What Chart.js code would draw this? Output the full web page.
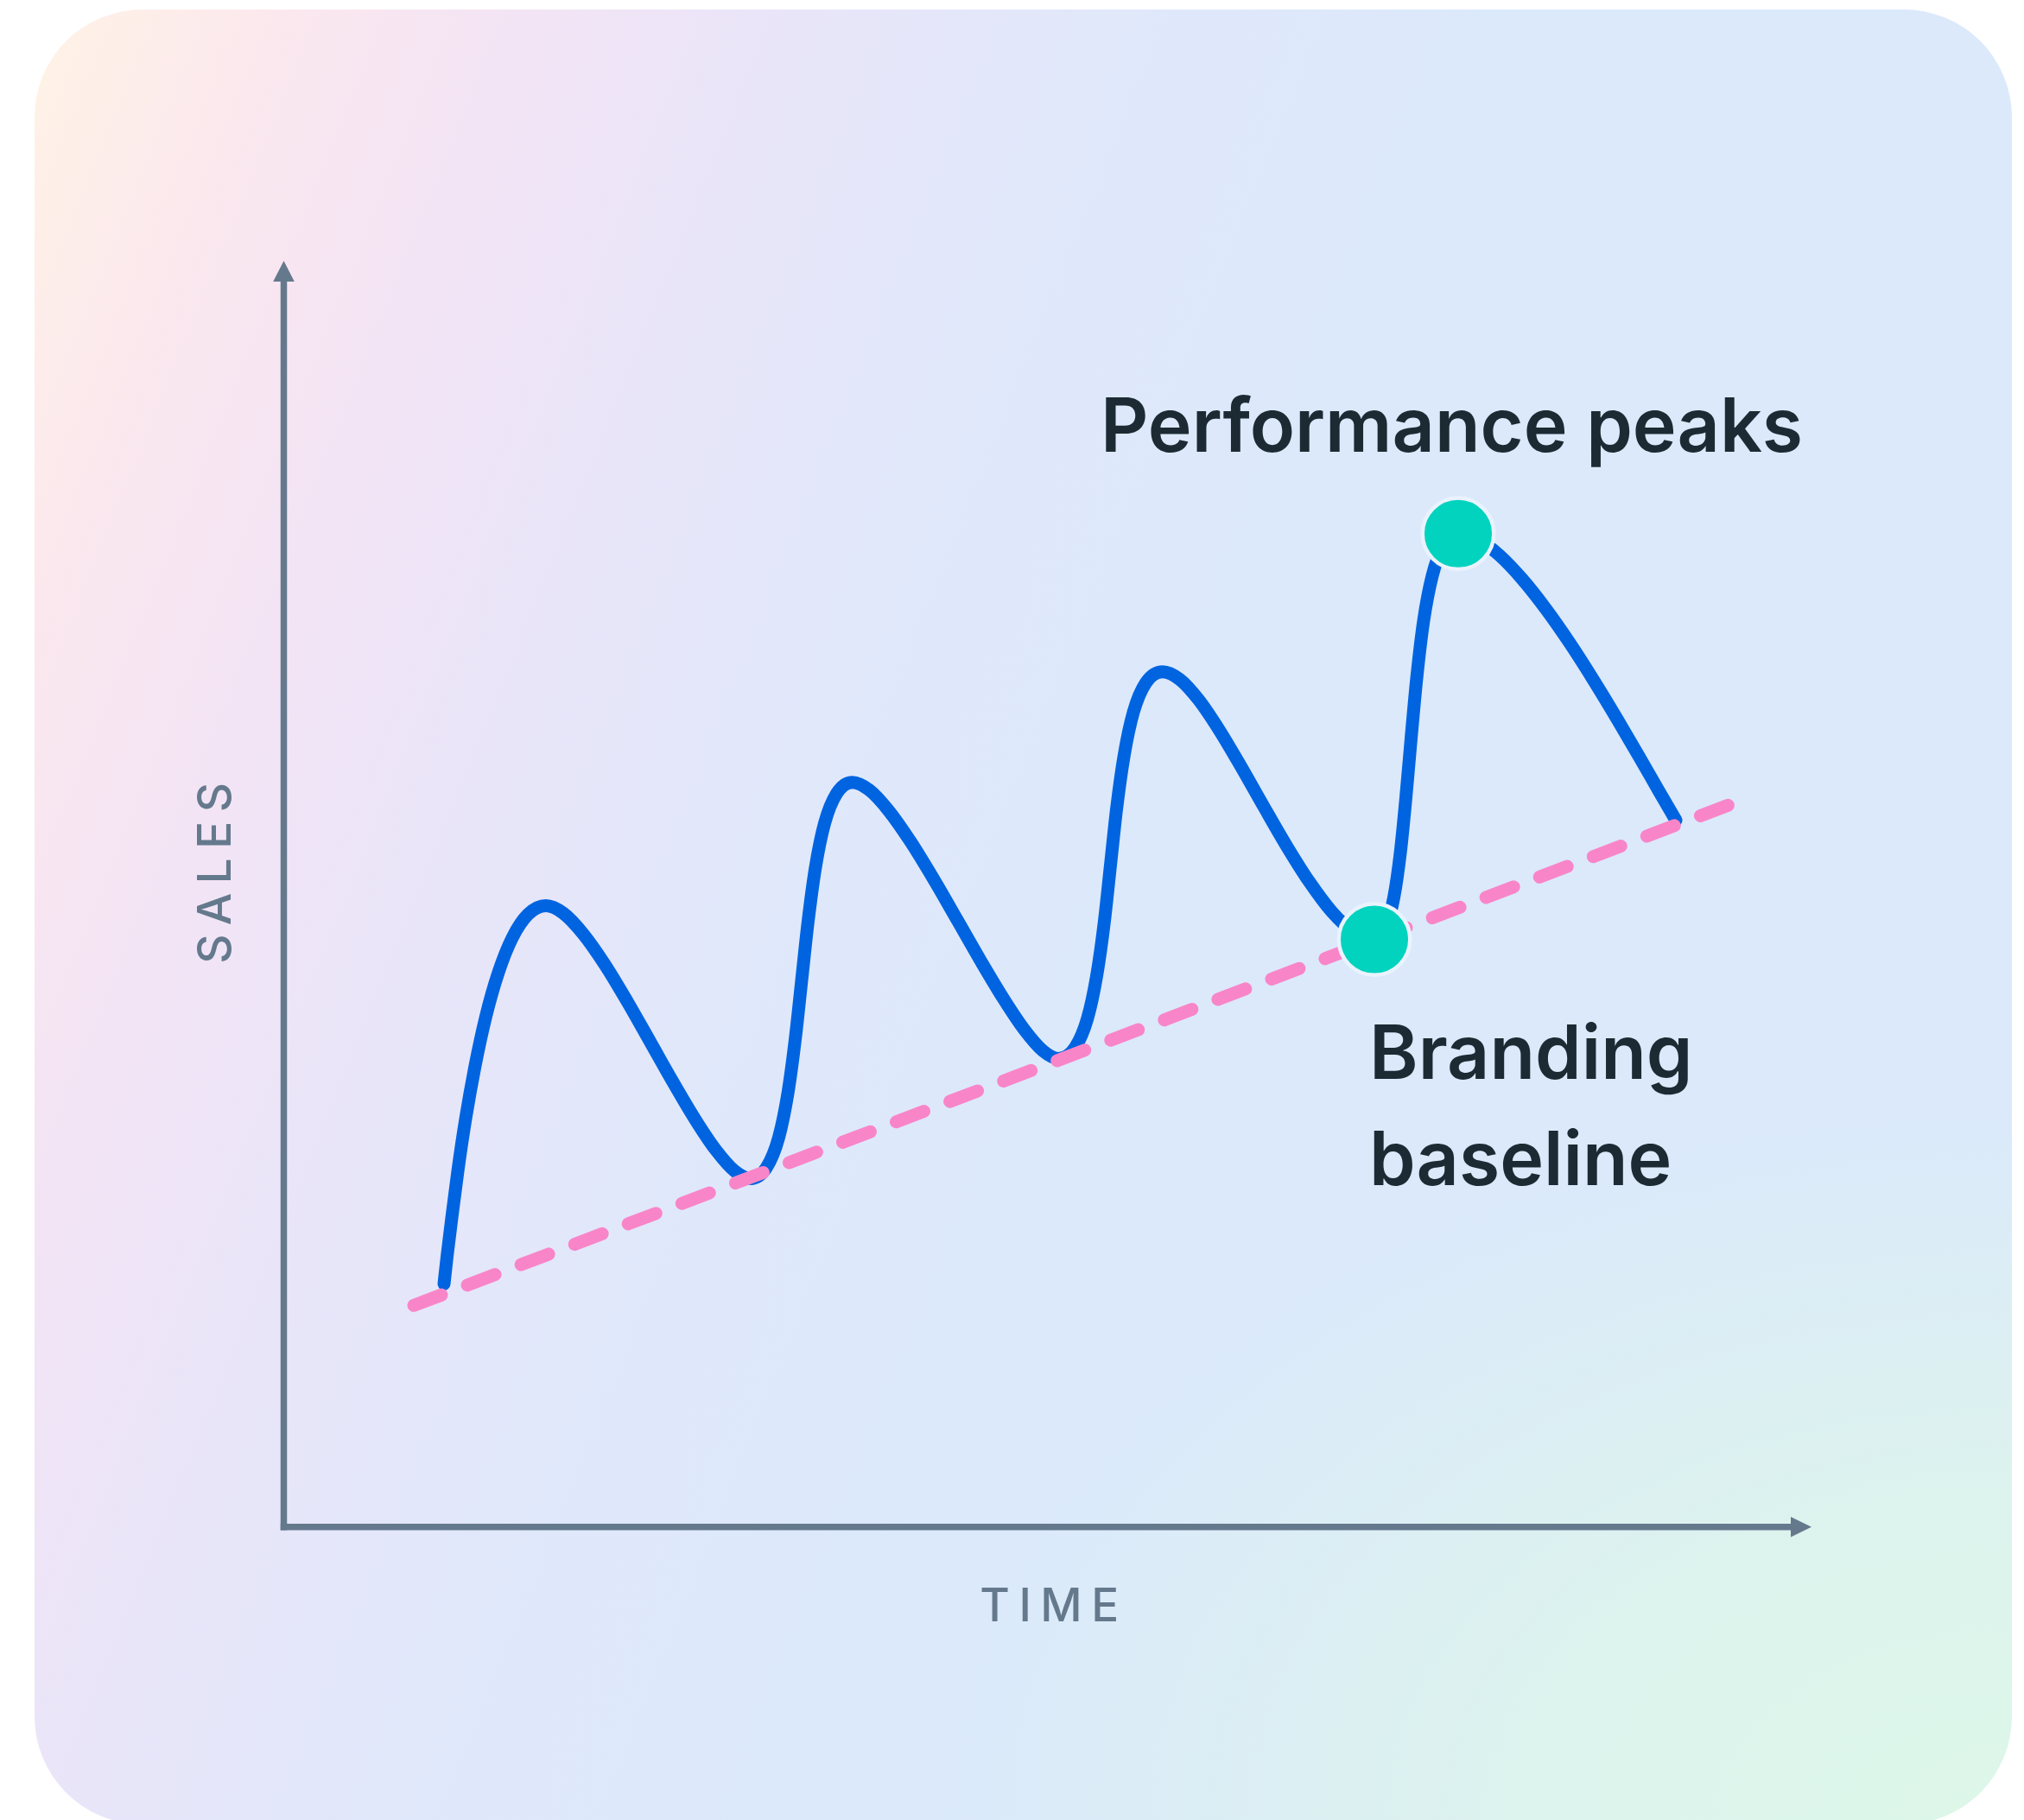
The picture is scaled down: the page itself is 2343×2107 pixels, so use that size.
<!DOCTYPE html>
<html>
<head>
<meta charset="utf-8">
<script src="https://cdn.jsdelivr.net/npm/chart.js@4.4.1/dist/chart.umd.min.js"></script>
<style>
  html, body { margin: 0; padding: 0; background: #ffffff; width: 2343px; height: 2107px; overflow: hidden; }
  #card {
    position: absolute; left: 40px; top: 11px; width: 2289px; height: 2101px; border-radius: 125px;
    background:
      radial-gradient(ellipse 55% 40% at 100% 100%, rgba(221,247,232,1) 0%, rgba(221,247,232,0.7) 45%, rgba(221,247,232,0) 100%),
      linear-gradient(112deg, #fff3e5 0%, #fbe8ee 9%, #f3e4f5 18%, #e9e5f9 28%, #e0e8fa 40%, #dbe9fb 55%, #dbe9fb 100%);
  }
  #wrap { position: absolute; left: 0; top: 0; width: 2343px; height: 2107px; }
</style>
</head>
<body>
<div id="card"></div>
<div id="wrap"><canvas id="c" width="2343" height="2107"></canvas></div>
<script>
// ---- data (arbitrary units, no tick labels) ----
const salesTime = [
  18.70, 19.07, 19.63, 20.33, 21.21, 22.28, 23.52, 24.97, 26.60, 28.44, 30.50,
  32.53, 34.83, 37.33, 39.93, 42.59, 45.24, 47.79, 50.18, 52.34, 54.20,
  56.04, 57.45, 58.51, 59.36, 60.10, 60.84, 61.69, 62.75, 64.16, 66.00,
  67.94, 70.21, 72.73, 75.40, 78.14, 80.86, 83.48, 85.89, 88.03, 89.80,
  91.74, 93.19, 94.27, 95.13, 95.85, 96.57, 97.43, 98.51, 99.96, 101.90,
  103.86, 106.04, 108.41, 110.92, 113.53, 116.19, 118.85, 121.46, 123.99, 126.40,
  127.68, 128.66, 129.42, 130.06, 130.67, 131.32, 132.09, 133.10, 134.41, 136.10,
  138.35, 140.84, 143.50, 146.27, 149.08, 151.85, 154.54, 157.05, 159.33, 161.30];
const salesValue = [
  28.10, 31.44, 36.00, 41.40, 47.28, 53.26, 58.98, 64.09, 68.18, 70.91, 71.90,
  71.02, 68.61, 65.07, 60.78, 56.10, 51.42, 47.13, 43.59, 41.18, 40.30,
  41.59, 45.07, 50.21, 56.46, 63.25, 70.04, 76.29, 81.43, 84.91, 86.20,
  85.30, 82.87, 79.29, 74.94, 70.20, 65.46, 61.11, 57.53, 55.10, 54.20,
  55.45, 58.86, 63.88, 69.97, 76.60, 83.23, 89.32, 94.34, 97.75, 99.00,
  98.13, 95.78, 92.30, 88.09, 83.50, 78.91, 74.70, 71.22, 68.87, 68.00,
  69.32, 72.89, 78.15, 84.54, 91.50, 98.46, 104.85, 110.11, 113.68, 115.00,
  114.34, 112.53, 109.75, 106.25, 102.23, 97.90, 93.46, 89.17, 85.20, 81.80];
const baselineTime = [15.20, 167.50];
const baselineValue = [25.60, 83.60];
const markerTime = [126.40, 136.10];
const markerValue = [68.00, 115.00];
const xAxisTitle = 'TIME';
const yAxisTitle = 'SALES';
const peakLabel = 'Performance peaks';
const baselineLabel = ['Branding', 'baseline'];
const xMax = 178.6;
const yMax = 152.4;

const toPoints = (xs, ys) => xs.map((x, i) => ({ x: x, y: ys[i] }));

const AXIS_COLOR = '#65798d';
const TEXT_COLOR = '#1c2b33';

const decor = {
  id: 'decor',
  beforeDraw(chart) {
    chart.ctx.letterSpacing = '10.5px';
  },
  beforeDatasetsDraw(chart) {
    const { ctx, chartArea: a } = chart;
    ctx.save();
    ctx.letterSpacing = '0px';
    ctx.fillStyle = AXIS_COLOR;
    ctx.strokeStyle = AXIS_COLOR;
    ctx.lineWidth = 7.5;
    const ox = a.left + 1.5, oy = a.bottom + 0.5;
    // y axis
    ctx.beginPath();
    ctx.moveTo(ox, oy + 3.75);
    ctx.lineTo(ox, a.top + 80);
    ctx.stroke();
    ctx.beginPath();
    ctx.moveTo(ox, a.top + 58);
    ctx.lineTo(ox + 12.3, a.top + 82);
    ctx.lineTo(ox - 12.3, a.top + 82);
    ctx.closePath();
    ctx.fill();
    // x axis
    const tipX = a.right - 16;
    ctx.beginPath();
    ctx.moveTo(ox - 3.75, oy);
    ctx.lineTo(tipX - 22, oy);
    ctx.stroke();
    ctx.beginPath();
    ctx.moveTo(tipX, oy);
    ctx.lineTo(tipX - 24, oy - 11.7);
    ctx.lineTo(tipX - 24, oy + 11.7);
    ctx.closePath();
    ctx.fill();
    ctx.restore();
  },
  afterDraw(chart) {
    const { ctx, scales } = chart;
    ctx.save();
    ctx.letterSpacing = '0px';
    ctx.font = '600 86px Inter';
    ctx.fillStyle = TEXT_COLOR;
    ctx.textBaseline = 'alphabetic';
    ctx.textAlign = 'left';
    const px = scales.x.getPixelForValue(markerTime[1]);
    const py = scales.y.getPixelForValue(markerValue[1]);
    ctx.fillText(peakLabel, px - 414, py - 95);
    const bx = scales.x.getPixelForValue(markerTime[0]);
    const by = scales.y.getPixelForValue(markerValue[0]);
    ctx.fillText(baselineLabel[0], bx - 6, by + 161);
    ctx.fillText(baselineLabel[1], bx - 6, by + 284);
    ctx.restore();
  }
};

const titleFont = { family: 'Inter', size: 53, weight: '500' };

new Chart(document.getElementById('c'), {
  type: 'scatter',
  data: {
    datasets: [
      {
        label: 'Highlights',
        data: toPoints(markerTime, markerValue),
        showLine: false,
        pointRadius: 41.3,
        pointHoverRadius: 41.3,
        pointBorderWidth: 4.5,
        pointBackgroundColor: '#02d3bf',
        pointBorderColor: '#eaf3fd'
      },
      {
        label: 'Branding baseline',
        data: toPoints(baselineTime, baselineValue),
        showLine: true,
        borderColor: '#f985c9',
        borderWidth: 15,
        borderDash: [34.3, 32.1],
        borderCapStyle: 'round',
        pointRadius: 0,
        tension: 0
      },
      {
        label: 'Sales',
        data: toPoints(salesTime, salesValue),
        showLine: true,
        borderColor: '#0064e0',
        borderWidth: 15,
        borderCapStyle: 'round',
        borderJoinStyle: 'round',
        pointRadius: 0,
        tension: 0.4,
        cubicInterpolationMode: 'monotone'
      }
    ]
  },
  options: {
    responsive: false,
    animation: false,
    devicePixelRatio: 1,
    layout: { padding: { left: 219.2, right: 230, top: 244, bottom: 214.2 } },
    plugins: { legend: { display: false }, tooltip: { enabled: false } },
    events: [],
    scales: {
      x: {
        type: 'linear', position: 'bottom', min: 0, max: xMax,
        grid: { display: false, drawTicks: false },
        border: { display: false },
        ticks: { display: false },
        title: { display: true, text: xAxisTitle, font: titleFont, color: AXIS_COLOR, padding: { top: 62, bottom: 0 } }
      },
      y: {
        type: 'linear', position: 'left', min: 0, max: yMax,
        grid: { display: false, drawTicks: false },
        border: { display: false },
        ticks: { display: false },
        title: { display: true, text: yAxisTitle, font: titleFont, color: AXIS_COLOR, padding: { top: 0, bottom: 44.2 } }
      }
    }
  },
  plugins: [decor]
});
</script>
</body>
</html>
